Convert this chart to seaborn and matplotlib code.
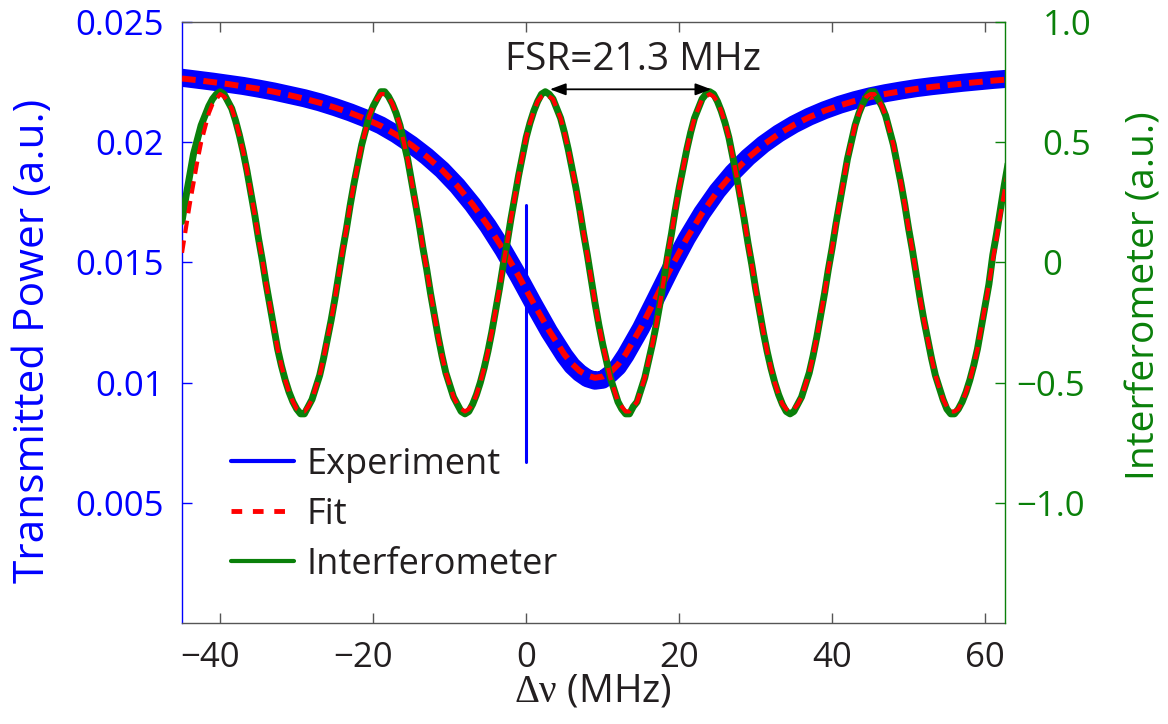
import matplotlib
matplotlib.use("Agg")
import matplotlib.pyplot as plt
import seaborn as sns
import pandas as pd
from matplotlib.lines import Line2D
from matplotlib.transforms import ScaledTranslation

# ---------------- data ----------------
# detuning grid for the transmission trace / fit (MHz)
trans_x = [-45, -43, -41, -39, -37, -35, -33, -31, -29, -27, -25, -23, -21, -19,
           -17, -15, -13, -11, -9, -7, -5, -3, -1, 1, 3, 5, 6, 7, 8, 9, 10, 11,
           12, 13, 15, 17, 19, 21, 23, 25, 27, 29, 31, 33, 35, 37, 39, 41, 43,
           45, 47, 49, 51, 53, 55, 57, 59, 61, 63]
# measured transmitted power (centre of the noisy band, a.u.)
experiment = [0.02268, 0.02260, 0.02252, 0.02243, 0.02234, 0.02223, 0.02211,
              0.02197, 0.02183, 0.02166, 0.02146, 0.02124, 0.02099, 0.02070,
              0.02033, 0.01990, 0.01941, 0.01885, 0.01818, 0.01740, 0.01652,
              0.01552, 0.01442, 0.01325, 0.01212, 0.01112, 0.01070, 0.01040,
              0.01018, 0.01008, 0.01012, 0.01036, 0.01066, 0.01114, 0.01226,
              0.01353, 0.01481, 0.01600, 0.01706, 0.01797, 0.01873, 0.01937,
              0.01991, 0.02036, 0.02074, 0.02106, 0.02133, 0.02156, 0.02175,
              0.02191, 0.02204, 0.02215, 0.02225, 0.02233, 0.02240, 0.02247,
              0.02253, 0.02259, 0.02264]
# Lorentzian fit of the transmission
trans_fit = [0.02265, 0.02258, 0.02250, 0.02242, 0.02232, 0.02222, 0.02210,
             0.02196, 0.02181, 0.02164, 0.02144, 0.02122, 0.02097, 0.02068,
             0.02031, 0.01988, 0.01940, 0.01884, 0.01818, 0.01741, 0.01653,
             0.01554, 0.01444, 0.01328, 0.01216, 0.01117, 0.01078, 0.01048,
             0.01029, 0.01020, 0.01025, 0.01043, 0.01075, 0.01118, 0.01229,
             0.01355, 0.01482, 0.01600, 0.01705, 0.01795, 0.01871, 0.01935,
             0.01989, 0.02034, 0.02072, 0.02104, 0.02131, 0.02153, 0.02172,
             0.02188, 0.02201, 0.02212, 0.02222, 0.02230, 0.02237, 0.02244,
             0.02250, 0.02256, 0.02261]
# glitch in the experimental trace at zero detuning
spike_x = [0, 0]
spike_y = [0.00671, 0.01738]

# detuning grid for the interferometer trace (MHz), 0.5 MHz steps -45 ... 63
interf_x = [i / 2 for i in range(-90, 127)]
# sinusoidal fit of the interferometer (one row = 5 MHz)
interf_fit = [
    0.04, 0.14, 0.24, 0.33, 0.42, 0.50, 0.56, 0.62, 0.66, 0.68,      # -45
    0.70, 0.69, 0.67, 0.64, 0.59, 0.53, 0.46, 0.38, 0.29, 0.20,      # -40
    0.10, 0.01, -0.09, -0.18, -0.27, -0.36, -0.43, -0.49, -0.54, -0.58,  # -35
    -0.61, -0.62, -0.62, -0.60, -0.57, -0.52, -0.47, -0.40, -0.32, -0.24,  # -30
    -0.15, -0.05, 0.05, 0.14, 0.24, 0.33, 0.41, 0.49, 0.55, 0.61,    # -25
    0.65, 0.68, 0.70, 0.70, 0.69, 0.66, 0.62, 0.57, 0.50, 0.43,      # -20
    0.34, 0.25, 0.16, 0.06, -0.03, -0.13, -0.22, -0.31, -0.39, -0.46,  # -15
    -0.51, -0.56, -0.59, -0.61, -0.62, -0.61, -0.59, -0.55, -0.50, -0.44,  # -10
    -0.37, -0.29, -0.20, -0.11, -0.01, 0.08, 0.18, 0.27, 0.36, 0.44,  # -5
    0.52, 0.58, 0.63, 0.67, 0.69, 0.70, 0.69, 0.68, 0.64, 0.60,      # 0
    0.54, 0.47, 0.39, 0.31, 0.22, 0.12, 0.03, -0.07, -0.17, -0.26,   # 5
    -0.34, -0.41, -0.48, -0.53, -0.58, -0.60, -0.62, -0.62, -0.60, -0.58,  # 10
    -0.53, -0.48, -0.41, -0.34, -0.26, -0.17, -0.07, 0.03, 0.12, 0.22,  # 15
    0.31, 0.39, 0.47, 0.54, 0.60, 0.64, 0.68, 0.69, 0.70, 0.69,      # 20
    0.67, 0.63, 0.58, 0.52, 0.44, 0.36, 0.27, 0.18, 0.08, -0.01,     # 25
    -0.11, -0.20, -0.29, -0.37, -0.44, -0.50, -0.55, -0.59, -0.61, -0.62,  # 30
    -0.61, -0.59, -0.56, -0.51, -0.46, -0.39, -0.31, -0.22, -0.13, -0.03,  # 35
    0.06, 0.16, 0.25, 0.34, 0.43, 0.50, 0.57, 0.62, 0.66, 0.69,      # 40
    0.70, 0.70, 0.68, 0.65, 0.61, 0.55, 0.49, 0.41, 0.33, 0.24,      # 45
    0.14, 0.05, -0.05, -0.15, -0.24, -0.32, -0.40, -0.47, -0.52, -0.57,  # 50
    -0.60, -0.62, -0.62, -0.61, -0.58, -0.54, -0.49, -0.43, -0.36, -0.27,  # 55
    -0.18, -0.09, 0.01, 0.10, 0.20, 0.29, 0.38]                      # 60
# measured interferometer signal
interferometer = [
    0.17, 0.27, 0.36, 0.45, 0.51, 0.57, 0.61, 0.65, 0.68, 0.70,      # -45
    0.71, 0.70, 0.67, 0.64, 0.59, 0.53, 0.46, 0.38, 0.29, 0.20,      # -40
    0.10, 0.01, -0.09, -0.18, -0.27, -0.36, -0.43, -0.49, -0.54, -0.58,  # -35
    -0.61, -0.63, -0.63, -0.60, -0.57, -0.52, -0.47, -0.40, -0.32, -0.24,  # -30
    -0.15, -0.05, 0.05, 0.14, 0.24, 0.33, 0.41, 0.49, 0.55, 0.61,    # -25
    0.65, 0.68, 0.71, 0.71, 0.69, 0.66, 0.62, 0.57, 0.50, 0.43,      # -20
    0.34, 0.25, 0.16, 0.06, -0.03, -0.13, -0.22, -0.31, -0.39, -0.46,  # -15
    -0.51, -0.56, -0.59, -0.62, -0.63, -0.62, -0.59, -0.55, -0.50, -0.44,  # -10
    -0.37, -0.29, -0.20, -0.11, -0.01, 0.08, 0.18, 0.27, 0.36, 0.44,  # -5
    0.52, 0.58, 0.63, 0.67, 0.70, 0.71, 0.70, 0.68, 0.64, 0.60,      # 0
    0.54, 0.47, 0.39, 0.31, 0.22, 0.12, 0.03, -0.07, -0.17, -0.26,   # 5
    -0.34, -0.41, -0.48, -0.53, -0.58, -0.61, -0.63, -0.63, -0.60, -0.58,  # 10
    -0.53, -0.48, -0.41, -0.34, -0.26, -0.17, -0.07, 0.03, 0.12, 0.22,  # 15
    0.31, 0.39, 0.47, 0.54, 0.60, 0.64, 0.68, 0.70, 0.71, 0.70,      # 20
    0.67, 0.63, 0.58, 0.52, 0.44, 0.36, 0.27, 0.18, 0.08, -0.01,     # 25
    -0.11, -0.20, -0.29, -0.37, -0.44, -0.50, -0.55, -0.59, -0.62, -0.63,  # 30
    -0.62, -0.59, -0.56, -0.51, -0.46, -0.39, -0.31, -0.22, -0.13, -0.03,  # 35
    0.06, 0.16, 0.25, 0.34, 0.43, 0.50, 0.57, 0.62, 0.66, 0.69,      # 40
    0.71, 0.71, 0.68, 0.65, 0.61, 0.55, 0.49, 0.41, 0.33, 0.24,      # 45
    0.14, 0.05, -0.05, -0.15, -0.24, -0.32, -0.40, -0.47, -0.52, -0.57,  # 50
    -0.61, -0.63, -0.63, -0.61, -0.58, -0.54, -0.49, -0.43, -0.36, -0.27,  # 55
    -0.18, -0.09, 0.03, 0.12, 0.22, 0.32, 0.41]                      # 60

# FSR annotation (peak-to-peak arrow, right-axis units)
fsr_x = [3.1, 24.2]
fsr_y = 0.72
fsr_label = "FSR=21.3 MHz"

# axes / ticks
x_ticks = [-40, -20, 0, 20, 40, 60]
x_ticklabels = ["\u221240", "\u221220", "0", "20", "40", "60"]
left_ticks = [0.005, 0.01, 0.015, 0.02, 0.025]
left_ticklabels = ["0.005", "0.01", "0.015", "0.02", "0.025"]
right_ticks = [-1.0, -0.5, 0.0, 0.5, 1.0]
right_ticklabels = ["\u22121.0", "\u22120.5", "0", "0.5", "1.0"]
legend_labels = ["Experiment", "Fit", "Interferometer"]

# ---------------- style ----------------
sns.set_theme(style="white")
plt.rcParams["font.family"] = ["Open Sans", "DejaVu Sans"]
plt.rcParams["mathtext.fontset"] = "custom"
plt.rcParams["mathtext.rm"] = "Liberation Serif"
plt.rcParams["mathtext.it"] = "Liberation Serif:italic"
plt.rcParams["axes.unicode_minus"] = True

BLUE = "#0000ff"
RED = "#ff0000"
GREEN = "#0a800a"
BLACK = "#231f20"
SPINE = "#555555"

fig = plt.figure(figsize=(11.68, 7.24), dpi=100)
ax1 = fig.add_axes([182 / 1168, 101 / 724, 823 / 1168, 601 / 724])
ax2 = ax1.twinx()

df_t = pd.DataFrame({"x": trans_x, "exp": experiment, "fit": trans_fit})
df_i = pd.DataFrame({"x": interf_x, "data": interferometer, "fit": interf_fit})
df_s = pd.DataFrame({"x": spike_x, "y": spike_y})

# transmission (left axis)
sns.lineplot(data=df_t, x="x", y="exp", ax=ax1, color=BLUE, lw=13,
             solid_joinstyle="round", legend=False, zorder=2)
sns.lineplot(data=df_s, x="x", y="y", ax=ax1, color=BLUE, lw=2.2,
             estimator=None, sort=False, legend=False, zorder=2)
sns.lineplot(data=df_t, x="x", y="fit", ax=ax1, color=RED, lw=4.3,
             legend=False, zorder=3)
ax1.lines[-1].set_dashes([2.3, 1.3])

# interferometer (right axis)
sns.lineplot(data=df_i, x="x", y="data", ax=ax2, color=GREEN, lw=5,
             solid_joinstyle="round", legend=False, zorder=2)
sns.lineplot(data=df_i, x="x", y="fit", ax=ax2, color=RED, lw=3,
             legend=False, zorder=3)
ax2.lines[-1].set_dashes([3.0, 1.8])

# limits
ax1.set_xlim(-45, 62.6)
ax1.set_ylim(0, 0.025)
ax2.set_ylim(-1.5, 1.0)

# ticks
ax1.set_xticks(x_ticks)
ax1.set_xticklabels(x_ticklabels)
ax1.set_yticks(left_ticks)
ax1.set_yticklabels(left_ticklabels)
ax2.set_yticks(right_ticks)
ax2.set_yticklabels(right_ticklabels)

ax1.tick_params(axis="x", direction="in", top=True, bottom=True, length=7,
                width=1, color=SPINE, labelcolor=BLACK, labelsize=25, pad=13)
ax1.tick_params(axis="y", direction="in", left=True, right=False, length=7,
                width=1, color=BLUE, labelcolor=BLUE, labelsize=25, pad=13)
ax2.tick_params(axis="y", direction="in", right=True, left=False, length=7,
                width=1, color=GREEN, labelcolor=GREEN, labelsize=25, pad=27)

# spines
for s in ["top", "bottom"]:
    ax1.spines[s].set_color(SPINE)
    ax1.spines[s].set_linewidth(1)
ax1.spines["left"].set_color(BLUE)
ax1.spines["left"].set_linewidth(1)
ax1.spines["right"].set_visible(False)
for s in ["top", "bottom", "left"]:
    ax2.spines[s].set_visible(False)
ax2.spines["right"].set_color(GREEN)
ax2.spines["right"].set_linewidth(1)

# axis labels
ax1.set_xlabel(r"$\mathrm{\Delta\nu}$ (MHz)", fontsize=28, color=BLACK)
ax1.xaxis.set_label_coords(0.5, -0.083)
ax1.set_ylabel("Transmitted Power (a.u.)", fontsize=30.5, color=BLUE)
ax1.yaxis.set_label_coords(-0.155, 0.47)
ax2.set_ylabel("Interferometer (a.u.)", fontsize=28, color=GREEN)
ax2.yaxis.set_label_coords(1.146, 0.545)

# FSR annotation
ax2.annotate("", xy=(fsr_x[1], fsr_y), xytext=(fsr_x[0], fsr_y),
             arrowprops=dict(arrowstyle="<|-|>,head_length=0.8,head_width=0.3",
                             mutation_scale=12, color="black", lw=1.3,
                             shrinkA=0, shrinkB=0))
ax2.text((fsr_x[0] + fsr_x[1]) / 2 + 0.3, fsr_y + 0.12, fsr_label,
         ha="center", va="center", fontsize=28, color=BLACK)

# legend
handles = [Line2D([], [], color=BLUE, lw=3),
           Line2D([], [], color=RED, lw=3.5, dashes=(2.2, 2.2)),
           Line2D([], [], color=GREEN, lw=3)]
leg = ax2.legend(handles, legend_labels, loc="upper left",
                 bbox_to_anchor=(0.02, 0.347), frameon=False, fontsize=26,
                 handlelength=1.75, handletextpad=0.33, labelspacing=0.385)
for t in leg.get_texts():
    t.set_color(BLACK)

# hang the minus signs so digits stay aligned (as in the reference)
fig.canvas.draw()
for lbl in ax1.get_xticklabels():
    if lbl.get_text().startswith("\u2212"):
        lbl.set_transform(lbl.get_transform() +
                          ScaledTranslation(-0.10, 0, fig.dpi_scale_trans))
for lbl in ax2.get_yticklabels():
    if lbl.get_text().startswith("\u2212"):
        lbl.set_transform(lbl.get_transform() +
                          ScaledTranslation(-0.26, 0, fig.dpi_scale_trans))

fig.savefig("out.png", dpi=100)
